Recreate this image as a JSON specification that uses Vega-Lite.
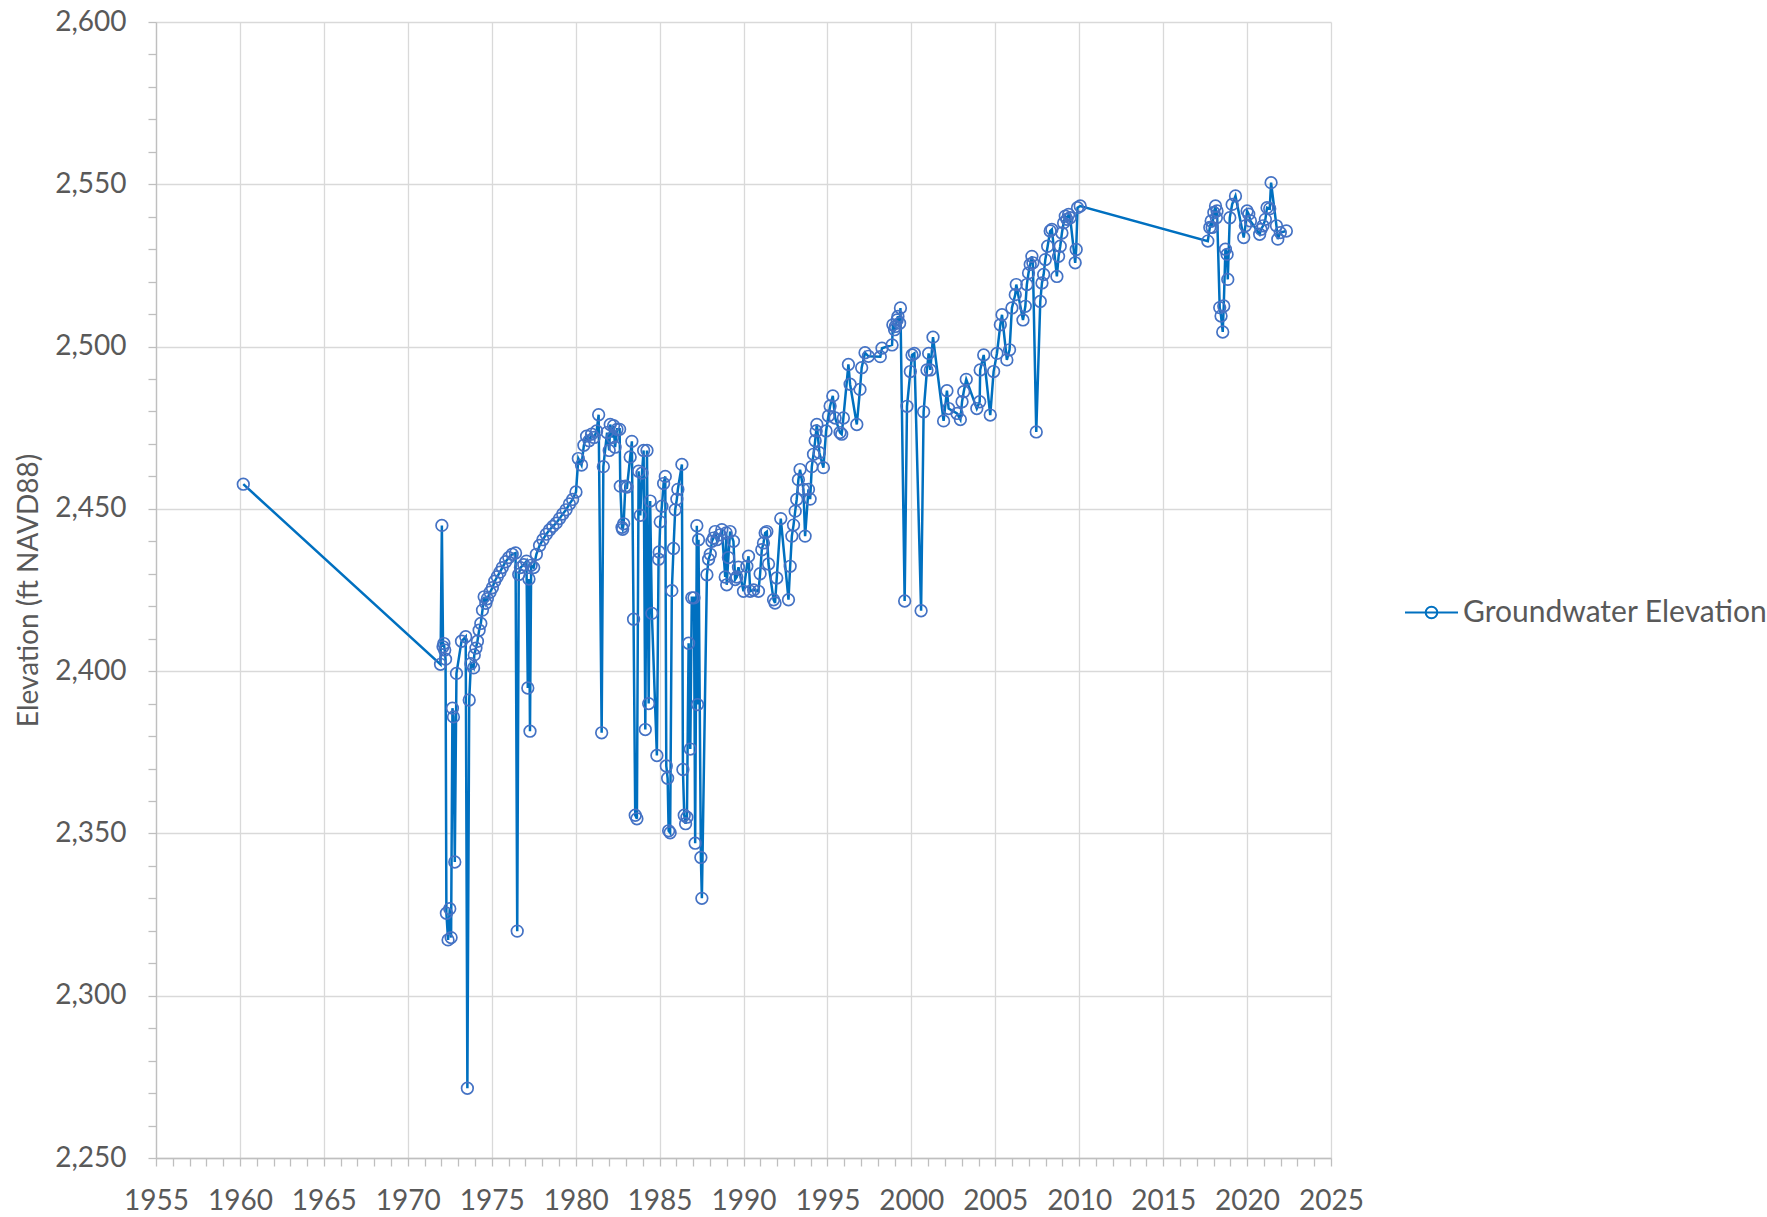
{
  "$schema": "https://vega.github.io/schema/vega-lite/v6.json",
  "width": 1175,
  "height": 1136,
  "autosize": {"type": "none"},
  "padding": {"left": 156, "top": 22, "right": 436, "bottom": 59},
  "background": "white",
  "config": {
    "view": {"stroke": null},
    "font": "Lato",
    "axis": {
      "labelFont": "Lato",
      "labelFontSize": 28,
      "labelColor": "#595959",
      "titleFont": "Lato",
      "titleFontSize": 28,
      "titleFontWeight": "normal",
      "titleColor": "#595959",
      "domainColor": "#BFBFBF",
      "domainWidth": 1.3,
      "tickColor": "#BFBFBF",
      "tickWidth": 1.3,
      "tickSize": 8,
      "gridWidth": 1.3,
      "labelOverlap": false,
      "labelFlush": false,
      "labelBound": false
    }
  },
  "data": {"values": [
    {"year": 1960.2, "elevation": 2457.6},
    {"year": 1971.95, "elevation": 2402.1},
    {"year": 1972.03, "elevation": 2444.9},
    {"year": 1972.1, "elevation": 2407.5},
    {"year": 1972.15, "elevation": 2408.5},
    {"year": 1972.2, "elevation": 2406.5},
    {"year": 1972.25, "elevation": 2403.7},
    {"year": 1972.3, "elevation": 2325.4},
    {"year": 1972.4, "elevation": 2317.2},
    {"year": 1972.5, "elevation": 2326.8},
    {"year": 1972.58, "elevation": 2317.9},
    {"year": 1972.66, "elevation": 2388.6},
    {"year": 1972.72, "elevation": 2385.9},
    {"year": 1972.8, "elevation": 2341.2},
    {"year": 1972.9, "elevation": 2399.3},
    {"year": 1973.2, "elevation": 2409.2},
    {"year": 1973.45, "elevation": 2410.6},
    {"year": 1973.55, "elevation": 2271.5},
    {"year": 1973.66, "elevation": 2391.1},
    {"year": 1973.76, "elevation": 2402.3},
    {"year": 1973.92, "elevation": 2401},
    {"year": 1973.96, "elevation": 2405},
    {"year": 1974.06, "elevation": 2407.1},
    {"year": 1974.15, "elevation": 2409.2},
    {"year": 1974.25, "elevation": 2412.6},
    {"year": 1974.35, "elevation": 2414.7},
    {"year": 1974.45, "elevation": 2418.8},
    {"year": 1974.55, "elevation": 2422.9},
    {"year": 1974.65, "elevation": 2420.9},
    {"year": 1974.74, "elevation": 2422.3},
    {"year": 1974.9, "elevation": 2424.3},
    {"year": 1975.04, "elevation": 2425.7},
    {"year": 1975.18, "elevation": 2427.7},
    {"year": 1975.33, "elevation": 2429.1},
    {"year": 1975.49, "elevation": 2430.5},
    {"year": 1975.63, "elevation": 2431.9},
    {"year": 1975.83, "elevation": 2433.7},
    {"year": 1976.02, "elevation": 2435},
    {"year": 1976.22, "elevation": 2436},
    {"year": 1976.42, "elevation": 2436.4},
    {"year": 1976.52, "elevation": 2319.9},
    {"year": 1976.61, "elevation": 2429.8},
    {"year": 1976.71, "elevation": 2431.9},
    {"year": 1976.91, "elevation": 2432.8},
    {"year": 1977.07, "elevation": 2433.9},
    {"year": 1977.15, "elevation": 2394.8},
    {"year": 1977.22, "elevation": 2428.4},
    {"year": 1977.28, "elevation": 2381.5},
    {"year": 1977.35, "elevation": 2432.6},
    {"year": 1977.5, "elevation": 2431.9},
    {"year": 1977.66, "elevation": 2436},
    {"year": 1977.85, "elevation": 2438.7},
    {"year": 1978.05, "elevation": 2440.5},
    {"year": 1978.25, "elevation": 2442.2},
    {"year": 1978.44, "elevation": 2443.5},
    {"year": 1978.64, "elevation": 2444.6},
    {"year": 1978.84, "elevation": 2445.6},
    {"year": 1979.04, "elevation": 2447},
    {"year": 1979.23, "elevation": 2448.4},
    {"year": 1979.43, "elevation": 2449.7},
    {"year": 1979.63, "elevation": 2451.5},
    {"year": 1979.82, "elevation": 2452.9},
    {"year": 1980.02, "elevation": 2455.2},
    {"year": 1980.16, "elevation": 2465.5},
    {"year": 1980.35, "elevation": 2463.5},
    {"year": 1980.49, "elevation": 2469.6},
    {"year": 1980.65, "elevation": 2472.4},
    {"year": 1980.8, "elevation": 2471},
    {"year": 1980.95, "elevation": 2473},
    {"year": 1981.1, "elevation": 2472},
    {"year": 1981.25, "elevation": 2474},
    {"year": 1981.37, "elevation": 2479},
    {"year": 1981.55, "elevation": 2381},
    {"year": 1981.65, "elevation": 2463},
    {"year": 1981.87, "elevation": 2473.5},
    {"year": 1982.0, "elevation": 2468},
    {"year": 1982.06, "elevation": 2476},
    {"year": 1982.2, "elevation": 2472},
    {"year": 1982.26, "elevation": 2475.6},
    {"year": 1982.35, "elevation": 2469},
    {"year": 1982.46, "elevation": 2474.5},
    {"year": 1982.62, "elevation": 2474.5},
    {"year": 1982.66, "elevation": 2457},
    {"year": 1982.76, "elevation": 2444.3},
    {"year": 1982.8, "elevation": 2443.7},
    {"year": 1982.86, "elevation": 2445.4},
    {"year": 1982.96, "elevation": 2457},
    {"year": 1983.06, "elevation": 2456.7},
    {"year": 1983.25, "elevation": 2466},
    {"year": 1983.35, "elevation": 2470.8},
    {"year": 1983.45, "elevation": 2416},
    {"year": 1983.55, "elevation": 2355.6},
    {"year": 1983.65, "elevation": 2354.5},
    {"year": 1983.75, "elevation": 2461.6},
    {"year": 1983.85, "elevation": 2448},
    {"year": 1983.95, "elevation": 2461},
    {"year": 1984.05, "elevation": 2468},
    {"year": 1984.15, "elevation": 2382},
    {"year": 1984.25, "elevation": 2468},
    {"year": 1984.35, "elevation": 2390},
    {"year": 1984.44, "elevation": 2452.4},
    {"year": 1984.54, "elevation": 2417.8},
    {"year": 1984.84, "elevation": 2374},
    {"year": 1984.94, "elevation": 2434.5},
    {"year": 1984.98, "elevation": 2436.7},
    {"year": 1985.04, "elevation": 2446},
    {"year": 1985.14, "elevation": 2450.8},
    {"year": 1985.24, "elevation": 2457.8},
    {"year": 1985.34, "elevation": 2460},
    {"year": 1985.4, "elevation": 2370.8},
    {"year": 1985.48, "elevation": 2367},
    {"year": 1985.54, "elevation": 2350.8},
    {"year": 1985.63, "elevation": 2350.2},
    {"year": 1985.73, "elevation": 2424.8},
    {"year": 1985.83, "elevation": 2437.8},
    {"year": 1985.93, "elevation": 2449.7},
    {"year": 1986.03, "elevation": 2453},
    {"year": 1986.09, "elevation": 2456},
    {"year": 1986.33, "elevation": 2463.7},
    {"year": 1986.39, "elevation": 2369.7},
    {"year": 1986.47, "elevation": 2355.6},
    {"year": 1986.55, "elevation": 2353},
    {"year": 1986.63, "elevation": 2355},
    {"year": 1986.73, "elevation": 2408.6},
    {"year": 1986.83, "elevation": 2376},
    {"year": 1986.92, "elevation": 2422.6},
    {"year": 1987.05, "elevation": 2422.6},
    {"year": 1987.12, "elevation": 2347},
    {"year": 1987.22, "elevation": 2444.8},
    {"year": 1987.26, "elevation": 2389.7},
    {"year": 1987.32, "elevation": 2440.5},
    {"year": 1987.46, "elevation": 2342.6},
    {"year": 1987.52, "elevation": 2330},
    {"year": 1987.82, "elevation": 2429.7},
    {"year": 1987.92, "elevation": 2434.5},
    {"year": 1988.02, "elevation": 2436},
    {"year": 1988.12, "elevation": 2440},
    {"year": 1988.21, "elevation": 2441},
    {"year": 1988.31, "elevation": 2443},
    {"year": 1988.41, "elevation": 2440.5},
    {"year": 1988.61, "elevation": 2442},
    {"year": 1988.71, "elevation": 2443.6},
    {"year": 1988.91, "elevation": 2429},
    {"year": 1988.97, "elevation": 2442.6},
    {"year": 1989.0, "elevation": 2426.6},
    {"year": 1989.1, "elevation": 2435},
    {"year": 1989.2, "elevation": 2443},
    {"year": 1989.4, "elevation": 2440},
    {"year": 1989.5, "elevation": 2428.2},
    {"year": 1989.6, "elevation": 2429},
    {"year": 1989.7, "elevation": 2432},
    {"year": 1990.0, "elevation": 2424.6},
    {"year": 1990.2, "elevation": 2432.3},
    {"year": 1990.3, "elevation": 2435.4},
    {"year": 1990.4, "elevation": 2424.6},
    {"year": 1990.6, "elevation": 2425},
    {"year": 1990.89, "elevation": 2424.6},
    {"year": 1990.99, "elevation": 2430},
    {"year": 1991.09, "elevation": 2437.4},
    {"year": 1991.19, "elevation": 2439.5},
    {"year": 1991.29, "elevation": 2442.6},
    {"year": 1991.39, "elevation": 2443},
    {"year": 1991.49, "elevation": 2433},
    {"year": 1991.79, "elevation": 2422},
    {"year": 1991.88, "elevation": 2421},
    {"year": 1991.98, "elevation": 2428.7},
    {"year": 1992.22, "elevation": 2447},
    {"year": 1992.68, "elevation": 2422},
    {"year": 1992.78, "elevation": 2432.3},
    {"year": 1992.88, "elevation": 2441.6},
    {"year": 1992.98, "elevation": 2445},
    {"year": 1993.08, "elevation": 2449.3},
    {"year": 1993.17, "elevation": 2452.9},
    {"year": 1993.27, "elevation": 2459},
    {"year": 1993.37, "elevation": 2462.1},
    {"year": 1993.57, "elevation": 2456},
    {"year": 1993.67, "elevation": 2441.6},
    {"year": 1993.87, "elevation": 2456},
    {"year": 1993.97, "elevation": 2453},
    {"year": 1994.07, "elevation": 2463},
    {"year": 1994.17, "elevation": 2466.8},
    {"year": 1994.27, "elevation": 2471},
    {"year": 1994.33, "elevation": 2474},
    {"year": 1994.37, "elevation": 2476},
    {"year": 1994.52, "elevation": 2467.3},
    {"year": 1994.76, "elevation": 2462.7},
    {"year": 1994.92, "elevation": 2474},
    {"year": 1995.06, "elevation": 2478.6},
    {"year": 1995.16, "elevation": 2481.7},
    {"year": 1995.32, "elevation": 2484.8},
    {"year": 1995.46, "elevation": 2478},
    {"year": 1995.75, "elevation": 2473.5},
    {"year": 1995.85, "elevation": 2473},
    {"year": 1995.95, "elevation": 2478},
    {"year": 1996.25, "elevation": 2494.5},
    {"year": 1996.35, "elevation": 2488.4},
    {"year": 1996.75, "elevation": 2476},
    {"year": 1996.94, "elevation": 2486.8},
    {"year": 1997.04, "elevation": 2493.5},
    {"year": 1997.24, "elevation": 2498.1},
    {"year": 1997.44, "elevation": 2497},
    {"year": 1998.15, "elevation": 2496.9},
    {"year": 1998.25, "elevation": 2499.5},
    {"year": 1998.85, "elevation": 2500.5},
    {"year": 1998.9, "elevation": 2506.7},
    {"year": 1999.0, "elevation": 2505.2},
    {"year": 1999.05, "elevation": 2506.2},
    {"year": 1999.15, "elevation": 2508.2},
    {"year": 1999.2, "elevation": 2509.3},
    {"year": 1999.3, "elevation": 2507.2},
    {"year": 1999.35, "elevation": 2511.9},
    {"year": 1999.6, "elevation": 2421.6},
    {"year": 1999.74, "elevation": 2481.6},
    {"year": 1999.94, "elevation": 2492.3},
    {"year": 2000.04, "elevation": 2497.4},
    {"year": 2000.18, "elevation": 2497.9},
    {"year": 2000.58, "elevation": 2418.6},
    {"year": 2000.73, "elevation": 2479.9},
    {"year": 2000.93, "elevation": 2492.8},
    {"year": 2001.03, "elevation": 2497.9},
    {"year": 2001.13, "elevation": 2492.8},
    {"year": 2001.29, "elevation": 2502.9},
    {"year": 2001.92, "elevation": 2477.1},
    {"year": 2002.12, "elevation": 2486.4},
    {"year": 2002.22, "elevation": 2480.9},
    {"year": 2002.72, "elevation": 2479.4},
    {"year": 2002.92, "elevation": 2477.5},
    {"year": 2003.02, "elevation": 2483},
    {"year": 2003.12, "elevation": 2486.1},
    {"year": 2003.27, "elevation": 2489.9},
    {"year": 2003.9, "elevation": 2480.9},
    {"year": 2004.07, "elevation": 2483},
    {"year": 2004.1, "elevation": 2492.8},
    {"year": 2004.31, "elevation": 2497.4},
    {"year": 2004.7, "elevation": 2478.9},
    {"year": 2004.9, "elevation": 2492.3},
    {"year": 2005.1, "elevation": 2497.9},
    {"year": 2005.3, "elevation": 2506.7},
    {"year": 2005.4, "elevation": 2509.8},
    {"year": 2005.69, "elevation": 2495.9},
    {"year": 2005.85, "elevation": 2499},
    {"year": 2005.99, "elevation": 2511.9},
    {"year": 2006.19, "elevation": 2516},
    {"year": 2006.25, "elevation": 2519.1},
    {"year": 2006.65, "elevation": 2508.2},
    {"year": 2006.79, "elevation": 2512.4},
    {"year": 2006.88, "elevation": 2519.1},
    {"year": 2006.98, "elevation": 2522.7},
    {"year": 2007.08, "elevation": 2525.3},
    {"year": 2007.18, "elevation": 2527.8},
    {"year": 2007.24, "elevation": 2525.8},
    {"year": 2007.44, "elevation": 2473.7},
    {"year": 2007.68, "elevation": 2513.9},
    {"year": 2007.78, "elevation": 2519.6},
    {"year": 2007.88, "elevation": 2522.2},
    {"year": 2007.98, "elevation": 2526.8},
    {"year": 2008.12, "elevation": 2530.9},
    {"year": 2008.27, "elevation": 2535.6},
    {"year": 2008.37, "elevation": 2536.1},
    {"year": 2008.67, "elevation": 2521.6},
    {"year": 2008.77, "elevation": 2527.8},
    {"year": 2008.87, "elevation": 2530.9},
    {"year": 2008.97, "elevation": 2535},
    {"year": 2009.07, "elevation": 2538.1},
    {"year": 2009.17, "elevation": 2540.2},
    {"year": 2009.27, "elevation": 2539.2},
    {"year": 2009.37, "elevation": 2540.7},
    {"year": 2009.46, "elevation": 2539.7},
    {"year": 2009.76, "elevation": 2525.8},
    {"year": 2009.82, "elevation": 2529.9},
    {"year": 2009.9, "elevation": 2542.8},
    {"year": 2010.06, "elevation": 2543.3},
    {"year": 2017.66, "elevation": 2532.5},
    {"year": 2017.78, "elevation": 2536.7},
    {"year": 2017.86, "elevation": 2538.7},
    {"year": 2017.92, "elevation": 2536.7},
    {"year": 2018.02, "elevation": 2541.3},
    {"year": 2018.12, "elevation": 2543.3},
    {"year": 2018.17, "elevation": 2539.7},
    {"year": 2018.21, "elevation": 2541.8},
    {"year": 2018.37, "elevation": 2512},
    {"year": 2018.45, "elevation": 2509.4},
    {"year": 2018.55, "elevation": 2504.5},
    {"year": 2018.61, "elevation": 2512.5},
    {"year": 2018.71, "elevation": 2530},
    {"year": 2018.81, "elevation": 2528.4},
    {"year": 2018.85, "elevation": 2520.7},
    {"year": 2018.97, "elevation": 2539.7},
    {"year": 2019.11, "elevation": 2543.8},
    {"year": 2019.31, "elevation": 2546.4},
    {"year": 2019.8, "elevation": 2533.6},
    {"year": 2019.9, "elevation": 2537.2},
    {"year": 2020.0, "elevation": 2541.8},
    {"year": 2020.1, "elevation": 2540.8},
    {"year": 2020.2, "elevation": 2538.7},
    {"year": 2020.75, "elevation": 2534.6},
    {"year": 2020.83, "elevation": 2536.1},
    {"year": 2020.95, "elevation": 2537.2},
    {"year": 2021.09, "elevation": 2539.2},
    {"year": 2021.19, "elevation": 2542.8},
    {"year": 2021.35, "elevation": 2542.5},
    {"year": 2021.43, "elevation": 2550.5},
    {"year": 2021.75, "elevation": 2537.2},
    {"year": 2021.83, "elevation": 2533.1},
    {"year": 2021.98, "elevation": 2535.1},
    {"year": 2022.34, "elevation": 2535.6}
  ]},
  "encoding": {
    "x": {
      "field": "year",
      "type": "quantitative",
      "scale": {"domain": [1955, 2025], "nice": false, "zero": false},
      "axis": {
        "title": null,
        "values": [1955,1956,1957,1958,1959,1960,1961,1962,1963,1964,1965,1966,1967,1968,1969,1970,1971,1972,1973,1974,1975,1976,1977,1978,1979,1980,1981,1982,1983,1984,1985,1986,1987,1988,1989,1990,1991,1992,1993,1994,1995,1996,1997,1998,1999,2000,2001,2002,2003,2004,2005,2006,2007,2008,2009,2010,2011,2012,2013,2014,2015,2016,2017,2018,2019,2020,2021,2022,2023,2024,2025],
        "labelExpr": "datum.value % 5 === 0 ? '' + datum.value : ''",
        "labelPadding": 21,
        "gridColor": {"condition": {"test": "datum.value % 5 === 0", "value": "#D9D9D9"}, "value": "rgba(0,0,0,0)"}
      }
    },
    "y": {
      "field": "elevation",
      "type": "quantitative",
      "scale": {"domain": [2250, 2600], "nice": false, "zero": false},
      "axis": {
        "title": "Elevation (ft NAVD88)",
        "values": [2250,2260,2270,2280,2290,2300,2310,2320,2330,2340,2350,2360,2370,2380,2390,2400,2410,2420,2430,2440,2450,2460,2470,2480,2490,2500,2510,2520,2530,2540,2550,2560,2570,2580,2590,2600],
        "labelExpr": "datum.value % 50 === 0 ? format(datum.value, ',') : ''",
        "labelPadding": 22,
        "titlePadding": 11,
        "gridColor": {"condition": {"test": "datum.value % 50 === 0", "value": "#D9D9D9"}, "value": "rgba(0,0,0,0)"}
      }
    }
  },
  "layer": [
    {
      "mark": {"type": "line", "strokeWidth": 2.5},
      "encoding": {
        "color": {
          "datum": "Groundwater Elevation",
          "type": "nominal",
          "scale": {"range": ["#0070C0"]},
          "legend": {
            "title": null,
            "orient": "none",
            "legendX": 1248,
            "legendY": 563,
            "symbolType": "M-1,0L1,0M0.22,0A0.22,0.22,0,1,1,-0.22,0A0.22,0.22,0,1,1,0.22,0",
            "symbolSize": 2809,
            "symbolStrokeWidth": 2,
            "symbolStrokeColor": "#0070C0",
            "symbolFillColor": "transparent",
            "labelFont": "Lato",
            "labelFontSize": 30,
            "labelColor": "#595959",
            "labelOffset": 4,
            "labelLimit": 600
          }
        }
      }
    },
    {
      "mark": {"type": "point", "shape": "circle", "filled": false, "stroke": "#4472C4", "strokeWidth": 1.7, "size": 135, "opacity": 1}
    }
  ]
}
